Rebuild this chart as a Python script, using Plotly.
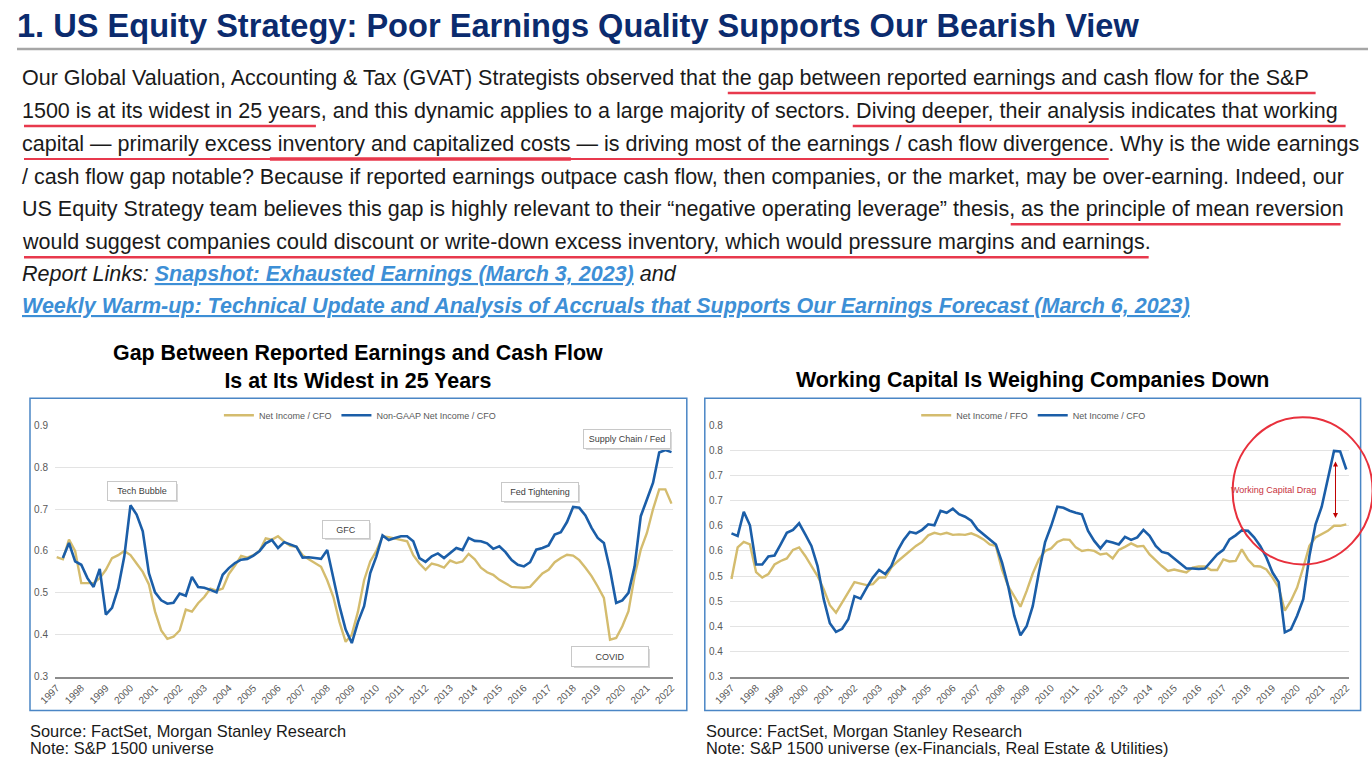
import plotly.graph_objects as go
import pandas as pd

W, H = 1372, 776

quarters = pd.period_range("1997Q1", "2022Q1", freq="Q")
xq = [p.year + (p.quarter - 1) / 4 for p in quarters]
years = list(range(1997, 2023))
year_labels = [str(y) for y in years]

left_ni_cfo = [
    0.585, 0.580, 0.627, 0.600, 0.523, 0.523, 0.523, 0.535, 0.555, 0.583,
    0.590, 0.600, 0.590, 0.570, 0.550, 0.520, 0.455, 0.410, 0.390, 0.395,
    0.410, 0.460, 0.455, 0.475, 0.490, 0.510, 0.505, 0.510, 0.545, 0.565,
    0.588, 0.584, 0.590, 0.600, 0.630, 0.627, 0.635, 0.622, 0.612, 0.610,
    0.590, 0.580, 0.570, 0.562, 0.530, 0.490, 0.430, 0.383, 0.400, 0.455,
    0.530, 0.575, 0.600, 0.635, 0.633, 0.630, 0.627, 0.623, 0.590, 0.570,
    0.555, 0.570, 0.566, 0.560, 0.577, 0.571, 0.575, 0.593, 0.580, 0.560,
    0.549, 0.543, 0.531, 0.522, 0.514, 0.513, 0.512, 0.514, 0.531, 0.546,
    0.555, 0.573, 0.583, 0.591, 0.589, 0.578, 0.560, 0.540, 0.515, 0.488,
    0.388, 0.392, 0.420, 0.456, 0.540, 0.603, 0.643, 0.700, 0.747, 0.747, 0.713,
]
left_nongaap_cfo = [
    None, 0.583, 0.619, 0.575, 0.567, 0.535, 0.514, 0.557, 0.448, 0.464,
    0.511, 0.587, 0.709, 0.687, 0.647, 0.547, 0.501, 0.482, 0.474, 0.476,
    0.498, 0.493, 0.538, 0.514, 0.512, 0.507, 0.501, 0.543, 0.559, 0.571,
    0.579, 0.581, 0.589, 0.600, 0.618, 0.626, 0.607, 0.621, 0.615, 0.610,
    0.584, 0.585, 0.583, 0.581, 0.602, 0.531, 0.468, 0.412, 0.380, 0.430,
    0.468, 0.547, 0.587, 0.637, 0.626, 0.631, 0.635, 0.635, 0.623, 0.583,
    0.574, 0.587, 0.594, 0.583, 0.595, 0.607, 0.602, 0.631, 0.624, 0.623,
    0.618, 0.605, 0.611, 0.597, 0.578, 0.567, 0.563, 0.573, 0.603, 0.607,
    0.613, 0.639, 0.645, 0.669, 0.705, 0.703, 0.685, 0.655, 0.631, 0.619,
    0.555, 0.476, 0.482, 0.500, 0.563, 0.683, 0.723, 0.763, 0.835, 0.841, 0.836,
]
right_ni_ffo = [
    0.494, 0.557, 0.568, 0.563, 0.508, 0.497, 0.504, 0.523, 0.530, 0.535,
    0.552, 0.557, 0.540, 0.520, 0.500, 0.474, 0.442, 0.427, 0.447, 0.468,
    0.488, 0.485, 0.482, 0.484, 0.497, 0.497, 0.517, 0.529, 0.540, 0.550,
    0.560, 0.568, 0.581, 0.586, 0.583, 0.586, 0.582, 0.583, 0.582, 0.585,
    0.580, 0.573, 0.563, 0.560, 0.513, 0.480, 0.460, 0.439, 0.470, 0.505,
    0.533, 0.550, 0.555, 0.568, 0.573, 0.572, 0.557, 0.550, 0.552, 0.550,
    0.543, 0.545, 0.535, 0.552, 0.558, 0.565, 0.559, 0.560, 0.543, 0.531,
    0.520, 0.510, 0.513, 0.510, 0.507, 0.517, 0.519, 0.519, 0.512, 0.512,
    0.533, 0.529, 0.530, 0.553, 0.533, 0.520, 0.519, 0.513, 0.497, 0.477,
    0.431, 0.451, 0.477, 0.517, 0.560, 0.577, 0.583, 0.590, 0.600, 0.600, 0.603,
]
right_ni_cfo = [
    0.585, 0.580, 0.628, 0.601, 0.523, 0.523, 0.539, 0.541, 0.563, 0.586,
    0.592, 0.605, 0.583, 0.560, 0.520, 0.454, 0.406, 0.389, 0.395, 0.414,
    0.460, 0.455, 0.477, 0.497, 0.512, 0.504, 0.520, 0.550, 0.572, 0.588,
    0.585, 0.592, 0.603, 0.601, 0.630, 0.626, 0.634, 0.623, 0.618, 0.610,
    0.593, 0.583, 0.573, 0.563, 0.527, 0.480, 0.421, 0.382, 0.400, 0.440,
    0.507, 0.567, 0.600, 0.638, 0.636, 0.630, 0.626, 0.623, 0.590, 0.570,
    0.555, 0.570, 0.567, 0.563, 0.578, 0.572, 0.577, 0.592, 0.580, 0.560,
    0.548, 0.545, 0.535, 0.525, 0.515, 0.515, 0.514, 0.515, 0.528, 0.543,
    0.552, 0.573, 0.581, 0.591, 0.590, 0.577, 0.560, 0.537, 0.507, 0.488,
    0.388, 0.394, 0.421, 0.454, 0.540, 0.603, 0.638, 0.693, 0.749, 0.748, 0.712,
]
right_tickvals = [0.30, 0.35, 0.40, 0.45, 0.50, 0.55, 0.60, 0.65, 0.70, 0.75, 0.80]
right_ticktext = ["0.3", "0.4", "0.4", "0.5", "0.5", "0.6", "0.6", "0.7", "0.7", "0.8", "0.8"]

header = "1. US Equity Strategy: Poor Earnings Quality Supports Our Bearish View"
para_lines = [
    "Our Global Valuation, Accounting &amp; Tax (GVAT) Strategists observed that the gap between reported earnings and cash flow for the S&amp;P",
    "1500 is at its widest in 25 years, and this dynamic applies to a large majority of sectors. Diving deeper, their analysis indicates that working",
    "capital — primarily excess inventory and capitalized costs — is driving most of the earnings / cash flow divergence. Why is the wide earnings",
    "/ cash flow gap notable? Because if reported earnings outpace cash flow, then companies, or the market, may be over-earning. Indeed, our",
    "US Equity Strategy team believes this gap is highly relevant to their “negative operating leverage” thesis, as the principle of mean reversion",
    "would suggest companies could discount or write-down excess inventory, which would pressure margins and earnings.",
]
link1 = "Snapshot: Exhausted Earnings (March 3, 2023)"
link2 = "Weekly Warm-up: Technical Update and Analysis of Accruals that Supports Our Earnings Forecast (March 6, 2023)"
left_title = "Gap Between Reported Earnings and Cash Flow<br>Is at Its Widest in 25 Years"
right_title = "Working Capital Is Weighing Companies Down"
source_text = "Source: FactSet, Morgan Stanley Research"
left_note = "Note: S&amp;P 1500 universe"
right_note = "Note: S&amp;P 1500 universe (ex-Financials, Real Estate &amp; Utilities)"
events = ["Tech Bubble", "GFC", "Fed Tightening", "Supply Chain / Fed", "COVID"]
drag_label = "Working Capital Drag"

GOLD = "#D4BC6E"
BLUE = "#1B5EA8"
FONT = "Liberation Sans, Arial, sans-serif"
TICK = "#595959"

# the page is photographed with the figure occupying x 17..1368, y 6..770
OX, OY, SX, SY = 17.0, 6.0, 1351.4, 764.4


def P(x):
    return (x - OX) / SX


def Q(y):
    return 1 - (y - OY) / SY


fig = go.Figure()
fig.add_trace(go.Scatter(x=xq, y=left_ni_cfo, name="Net Income / CFO", mode="lines",
                         line=dict(color=GOLD, width=2.4), xaxis="x", yaxis="y", legend="legend"))
fig.add_trace(go.Scatter(x=xq, y=left_nongaap_cfo, name="Non-GAAP Net Income / CFO", mode="lines",
                         line=dict(color=BLUE, width=2.6), xaxis="x", yaxis="y", legend="legend"))
fig.add_trace(go.Scatter(x=xq, y=right_ni_ffo, name="Net Income / FFO", mode="lines",
                         line=dict(color=GOLD, width=2.4), xaxis="x2", yaxis="y2", legend="legend2"))
fig.add_trace(go.Scatter(x=xq, y=right_ni_cfo, name="Net Income / CFO", mode="lines",
                         line=dict(color=BLUE, width=2.6), xaxis="x2", yaxis="y2", legend="legend2"))

ppy = 24.6  # screen pixels per year


def xaxis_cfg(x1997, dl, dr):
    r0 = 1997 - (x1997 - dl) / ppy
    r1 = 1997 + (dr - x1997) / ppy
    return dict(domain=[P(dl), P(dr)], range=[r0, r1], tickvals=years, ticktext=year_labels,
                tickangle=-45, tickfont=dict(size=10, color=TICK, family=FONT), showgrid=False,
                showline=True, linecolor="#8C8C8C", linewidth=1.5, ticks="", zeroline=False,
                fixedrange=True)


ycommon = dict(domain=[Q(677), Q(426)], showgrid=True, gridcolor="#E3E3E3", gridwidth=1, zeroline=False,
               tickfont=dict(size=10, color=TICK, family=FONT), ticks="", showline=False, fixedrange=True,
               ticklabelstandoff=6)

fig.update_layout(
    width=W, height=H, margin=dict(l=0, r=0, t=0, b=0),
    paper_bgcolor="white", plot_bgcolor="white",
    font=dict(family=FONT, color="#1A1A1A"),
    xaxis=xaxis_cfg(56.7, 55, 673),
    xaxis2=xaxis_cfg(731.7, 730, 1349),
    yaxis=dict(anchor="x", range=[0.3, 0.9], dtick=0.1, tickformat=".1f", **ycommon),
    yaxis2=dict(anchor="x2", range=[0.3, 0.8], tickvals=right_tickvals, ticktext=right_ticktext, **ycommon),
    legend=dict(orientation="h", x=P(360), xanchor="center", y=Q(416), yanchor="middle",
                font=dict(size=9, color=TICK, family=FONT), bgcolor="rgba(0,0,0,0)", itemwidth=30),
    legend2=dict(orientation="h", x=P(1034), xanchor="center", y=Q(416), yanchor="middle",
                 font=dict(size=9, color=TICK, family=FONT), bgcolor="rgba(0,0,0,0)", itemwidth=30),
    showlegend=True,
)

shapes = []
shapes.append(dict(type="line", xref="paper", yref="paper", x0=0, x1=1, y0=Q(50), y1=Q(50),
                   line=dict(color="#A6A6A6", width=2.5)))
for x0, x1 in [(30, 687), (705, 1361)]:
    shapes.append(dict(type="rect", xref="paper", yref="paper", x0=P(x0), x1=P(x1), y0=Q(711), y1=Q(399),
                       line=dict(color="#4A86C5", width=1.5)))
RED = "#E8394D"
for (x0, x1, y, w) in [(728, 1316, 94, 2.5), (24, 316, 127, 2.5), (853, 1346, 127, 2.5),
                       (24, 1109, 160, 2), (270, 571, 160, 3.5), (1011, 1341, 225, 2.5), (24, 1149, 258, 2.5)]:
    shapes.append(dict(type="line", xref="paper", yref="paper", x0=P(x0), x1=P(x1), y0=Q(y), y1=Q(y),
                       line=dict(color=RED, width=w)))
shapes.append(dict(type="circle", xref="paper", yref="paper", x0=P(1233), x1=P(1373), y0=Q(565), y1=Q(418),
                   line=dict(color="#E8303C", width=2)))
fig.update_layout(shapes=shapes)

ann = []
ann.append(dict(text="<b>" + header + "</b>", xref="paper", yref="paper", x=P(15), y=Q(26), xanchor="left",
                yanchor="middle", showarrow=False, font=dict(size=32.6, color="#0B2B6E", family=FONT)))
line_y = [79, 112, 145, 178, 210, 243]
for t, yy in zip(para_lines, line_y):
    ann.append(dict(text=t, xref="paper", yref="paper", x=P(20), y=Q(yy), xanchor="left", yanchor="middle",
                    showarrow=False, font=dict(size=21.5, color="#1A1A1A", family=FONT)))
LINK = "#3D8FD6"
ann.append(dict(text="<i>Report Links: </i><b><i><span style='color:%s;text-decoration:underline'>%s</span></i></b><i> and</i>" % (LINK, link1),
                xref="paper", yref="paper", x=P(20), y=Q(275), xanchor="left", yanchor="middle", showarrow=False,
                font=dict(size=21.5, color="#1A1A1A", family=FONT)))
ann.append(dict(text="<b><i><span style='color:%s;text-decoration:underline'>%s</span></i></b>" % (LINK, link2),
                xref="paper", yref="paper", x=P(20), y=Q(307), xanchor="left", yanchor="middle", showarrow=False,
                font=dict(size=21.5, color=LINK, family=FONT)))
ann.append(dict(text="<b>" + left_title + "</b>", xref="paper", yref="paper", x=P(358), y=Q(368),
                xanchor="center", yanchor="middle", showarrow=False, font=dict(size=21.4, color="#000000", family=FONT)))
ann.append(dict(text="<b>" + right_title + "</b>", xref="paper", yref="paper", x=P(1032.5), y=Q(381),
                xanchor="center", yanchor="middle", showarrow=False, font=dict(size=21.4, color="#000000", family=FONT)))
for t, xx, yy in [(source_text, 28, 731), (left_note, 28, 748), (source_text, 704, 731), (right_note, 704, 748)]:
    ann.append(dict(text=t, xref="paper", yref="paper", x=P(xx), y=Q(yy), xanchor="left", yanchor="middle",
                    align="left", showarrow=False, font=dict(size=16.4, color="#1A1A1A", family=FONT)))

ev_pos = [(2000.47, 0.744, 68, 18), (2008.76, 0.651, 46, 17), (2016.64, 0.740, 76, 18),
          (2020.18, 0.868, 86, 18), (2019.50, 0.349, 76, 19)]
for t, (xx, yy, wd, ht) in zip(events, ev_pos):
    ann.append(dict(text=t, xref="x", yref="y", x=xx, y=yy, showarrow=False, width=wd, height=ht,
                    xshift=2, yshift=-2, bgcolor="#D9D9D9", borderwidth=0, borderpad=0,
                    font=dict(size=9, color="rgba(0,0,0,0)", family=FONT)))
    ann.append(dict(text=t, xref="x", yref="y", x=xx, y=yy, showarrow=False, width=wd, height=ht,
                    bgcolor="white", bordercolor="#C8C8C8", borderwidth=1, borderpad=0,
                    font=dict(size=9, color="#404040", family=FONT)))
ann.append(dict(text=drag_label, xref="x2", yref="y2", x=2019.04, y=0.672, showarrow=False,
                font=dict(size=9, color="#C8323C", family=FONT)))
ann.append(dict(text="", xref="x2", yref="y2", x=2021.56, y=0.728, ax=2021.56, ay=0.6125, axref="x2", ayref="y2",
                showarrow=True, arrowhead=2, arrowside="end+start", arrowsize=1, arrowwidth=1, arrowcolor="#C00000"))
fig.update_layout(annotations=ann)

post = ("document.documentElement.style.margin='0';document.body.style.margin='0';"
        "document.body.style.padding='0';document.body.style.overflow='hidden';")
fig.write_html("out.html", post_script=post, config={"displayModeBar": False})
